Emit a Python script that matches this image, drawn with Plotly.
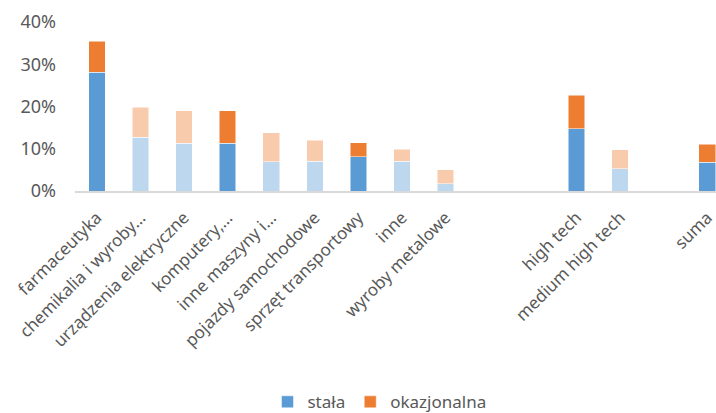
import plotly.graph_objects as go

categories = ["farmaceutyka", "chemikalia i wyroby…", "urządzenia elektryczne", "komputery,…",
              "inne maszyny i…", "pojazdy samochodowe", "sprzęt transportowy", "inne",
              "wyroby metalowe", "", "", "high tech", "medium high tech", "", "suma"]
stala = [28.1, 12.7, 11.3, 11.3, 6.9, 7.1, 8.1, 7.0, 1.7, None, None, 14.7, 5.3, None, 6.8]
okazjonalna = [7.3, 7.1, 7.7, 7.7, 6.9, 4.9, 3.3, 2.9, 3.3, None, None, 8.0, 4.5, None, 4.3]
highlight = [True, False, False, True, False, False, True, False, False, False, False, True, False, False, True]

DARK_BLUE, LIGHT_BLUE = "#5B9BD5", "#BDD7EE"
DARK_OR, LIGHT_OR = "#ED7D31", "#F8CBAD"

x = list(range(len(categories)))
stala_v = [None if v is None else v / 100 for v in stala]
okaz_v = [None if v is None else v / 100 for v in okazjonalna]

fig = go.Figure()
fig.add_trace(go.Bar(x=x, y=stala_v, name="stała", width=0.38,
                     marker=dict(color=[DARK_BLUE if h else LIGHT_BLUE for h in highlight],
                                 line=dict(color="white", width=0.5))))
fig.add_trace(go.Bar(x=x, y=okaz_v, name="okazjonalna", width=0.38,
                     marker=dict(color=[DARK_OR if h else LIGHT_OR for h in highlight],
                                 line=dict(color="white", width=0.5))))

fig.update_layout(
    barmode="stack",
    width=716, height=413,
    margin=dict(l=75, r=0, t=22, b=222, autoexpand=False),
    plot_bgcolor="white", paper_bgcolor="white",
    font=dict(family="Noto Sans", size=17, color="#595959"),
    showlegend=True,
    legend=dict(orientation="h", x=0.475, xanchor="center", y=-1.25, yanchor="middle",
                font=dict(size=17, color="#595959"), traceorder="normal"),
    xaxis=dict(range=[-0.5, 14.2], tickmode="array", tickvals=x, ticktext=categories,
               tickangle=-45, showgrid=False, showline=True, linecolor="#D9D9D9", linewidth=2,
               ticks="", zeroline=False, ticklabelstandoff=8, ticklabeloverflow="allow",
               automargin=False, tickfont=dict(size=17, color="#595959")),
    yaxis=dict(range=[0, 0.4], tickvals=[0, 0.1, 0.2, 0.3, 0.4], tickformat=".0%",
               showgrid=False, showline=False, zeroline=False, ticks="",
               automargin=False, ticklabelstandoff=18, tickfont=dict(size=18, color="#595959")),
)

fig.write_html("out.html")
